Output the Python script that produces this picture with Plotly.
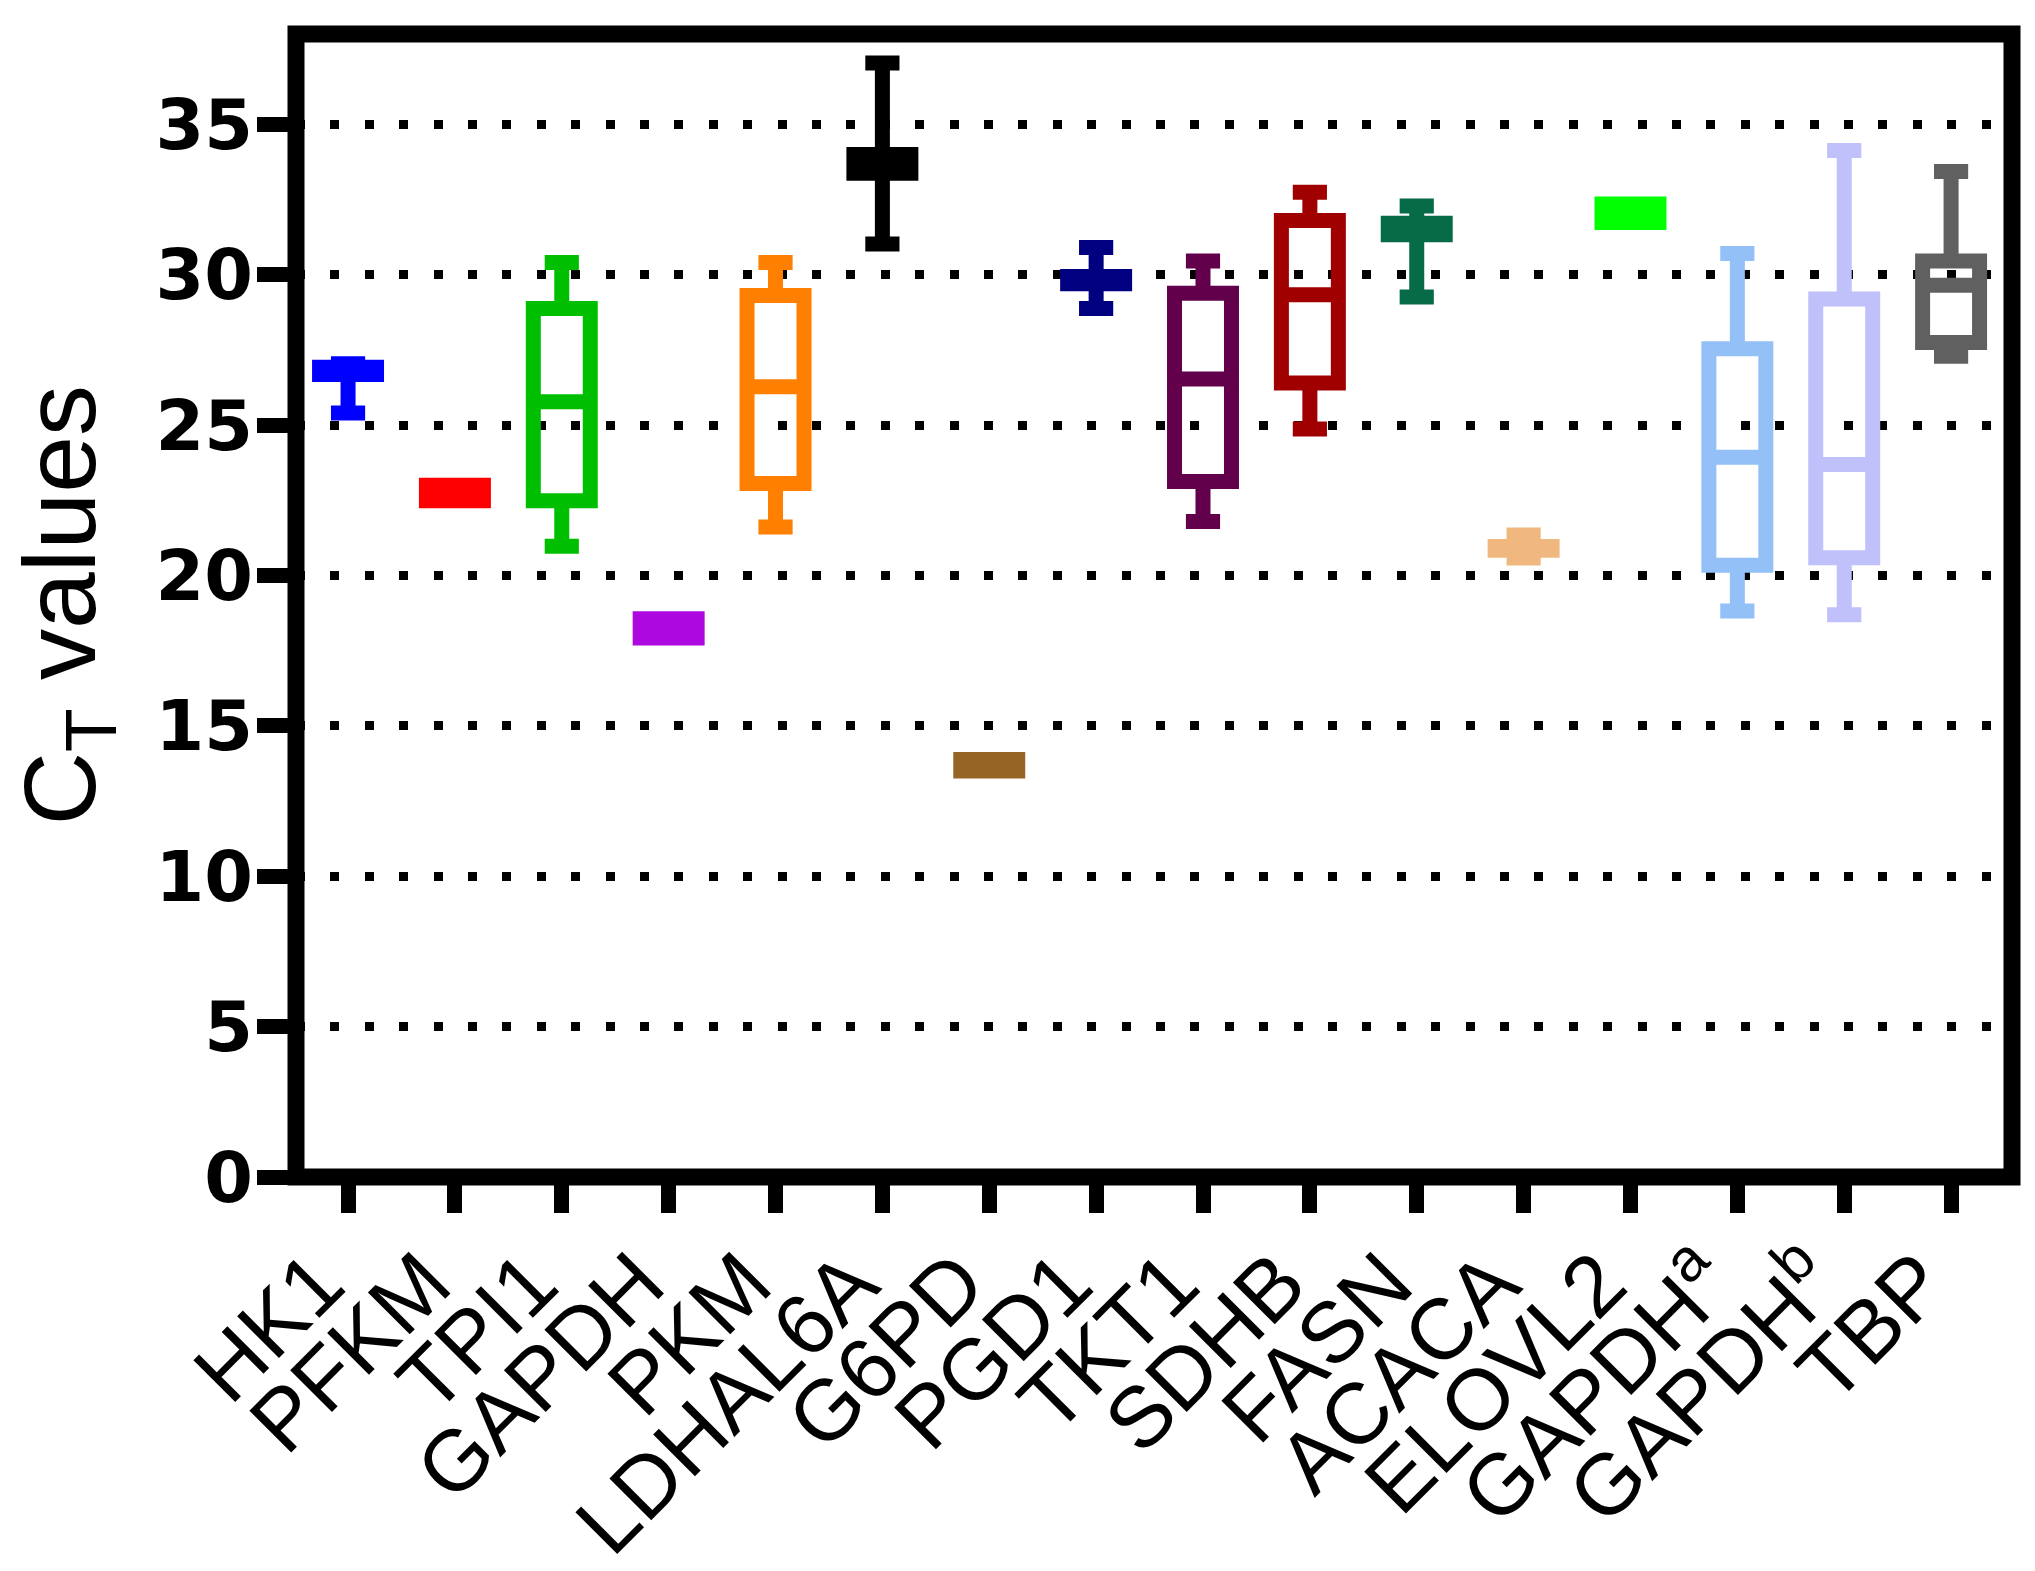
import plotly.graph_objects as go

# CT values per gene (whisker min, quartiles, median, whisker max)
genes = ["HK1", "PFKM", "TPI1", "GAPDH", "PKM", "LDHAL6A", "G6PD", "PGD1",
         "TKT1", "SDHB", "FASN", "ACACA", "ELOVL2", "GAPDH<sup>a</sup>",
         "GAPDH<sup>b</sup>", "TBP"]
ct_min = [25.40, 22.48, 20.97, 17.92, 21.61, 31.02, 13.50, 28.87,
          21.79, 24.87, 29.26, 20.58, 31.73, 18.82, 18.69, 27.29]
ct_q1 = [26.68, 22.48, 22.48, 17.92, 23.06, 33.37, 13.50, 29.70,
         23.12, 26.40, 31.33, 20.84, 31.73, 20.34, 20.59, 27.74]
ct_median = [26.80, 22.74, 25.77, 18.24, 26.27, 33.68, 13.69, 29.82,
             26.53, 29.33, 31.52, 20.90, 32.04, 23.93, 23.69, 29.65]
ct_q3 = [26.92, 23.00, 28.87, 18.56, 29.31, 33.99, 13.88, 29.94,
         29.38, 31.80, 31.71, 20.96, 32.35, 27.54, 29.19, 30.45]
ct_max = [27.04, 23.00, 30.40, 18.56, 30.40, 37.04, 13.88, 30.90,
          30.45, 32.74, 32.28, 21.34, 32.35, 30.70, 34.13, 33.43]
y_ticks = [0, 5, 10, 15, 20, 25, 30, 35]

colors = ["#0000FF", "#FF0000", "#00BF00", "#AE08E0", "#FF8000", "#000000",
          "#966424", "#000080", "#62004C", "#A00000", "#066B46", "#F0B87E",
          "#00FF00", "#94C0F8", "#C0C0FA", "#606060"]

FONT = "Liberation Sans, Arial, sans-serif"
NUM_FONT = "DejaVu Sans, Arial, sans-serif"
x_range = [-0.487, 15.57]
y_range = [0, 38]

fig = go.Figure()
for i, gene in enumerate(genes):
    fig.add_trace(go.Box(
        x=[gene], q1=[ct_q1[i]], median=[ct_median[i]], q3=[ct_q3[i]],
        lowerfence=[ct_min[i]], upperfence=[ct_max[i]],
        orientation="v", width=0.533, whiskerwidth=0.6,
        line=dict(color=colors[i], width=15),
        fillcolor="rgba(0,0,0,0)",
        boxpoints=False, showlegend=False,
    ))

# page body has an 8px margin, so the figure is 8px smaller than the window
fig.update_layout(
    width=2027, height=1563,
    paper_bgcolor="white", plot_bgcolor="white",
    margin=dict(l=288, r=23, t=26, b=394),
    boxmode="overlay",
    font=dict(family=FONT, color="black"),
    xaxis=dict(
        type="category", categoryorder="array", categoryarray=genes,
        tickmode="array", tickvals=genes, ticktext=genes,
        range=x_range, showgrid=False, zeroline=False, showline=False,
        automargin=False,
        ticks="outside", ticklen=35, tickwidth=15, tickcolor="black",
        tickangle=-45, ticklabelstandoff=-15, ticklabelshift=-30,
        tickfont=dict(family=FONT, size=86, color="black"),
    ),
    yaxis=dict(
        range=y_range, tickvals=y_ticks, zeroline=False, showline=False,
        automargin=False,
        ticks="outside", ticklen=38, tickwidth=15, tickcolor="black",
        ticklabelstandoff=-10,
        tickfont=dict(family=NUM_FONT, size=70, color="black", weight="bold"),
        showgrid=True, gridcolor="black", gridwidth=9, griddash="9px,25.4px",
    ),
    # mirrored ticks pointing into the plot on the top and right sides
    xaxis2=dict(
        overlaying="x", side="top", anchor="y", range=x_range,
        tickvals=list(range(len(genes))), showticklabels=False,
        ticks="inside", ticklen=36, tickwidth=15, tickcolor="black",
        showgrid=False, zeroline=False, showline=False, automargin=False,
    ),
    yaxis2=dict(
        overlaying="y", side="right", anchor="x", range=y_range,
        tickvals=y_ticks, showticklabels=False,
        ticks="inside", ticklen=36, tickwidth=15, tickcolor="black",
        showgrid=False, zeroline=False, showline=False, automargin=False,
    ),
    shapes=[dict(type="rect", xref="x domain", yref="y domain",
                 x0=0, x1=1, y0=0, y1=1, layer="above",
                 line=dict(color="black", width=17))],
    annotations=[dict(text="C<sub>T</sub> values", textangle=-90,
                      xref="paper", yref="paper", x=-0.134, y=0.5,
                      xanchor="center", yanchor="middle", showarrow=False,
                      font=dict(family=FONT, size=102, color="black"))],
)

fig.write_html("out.html")
